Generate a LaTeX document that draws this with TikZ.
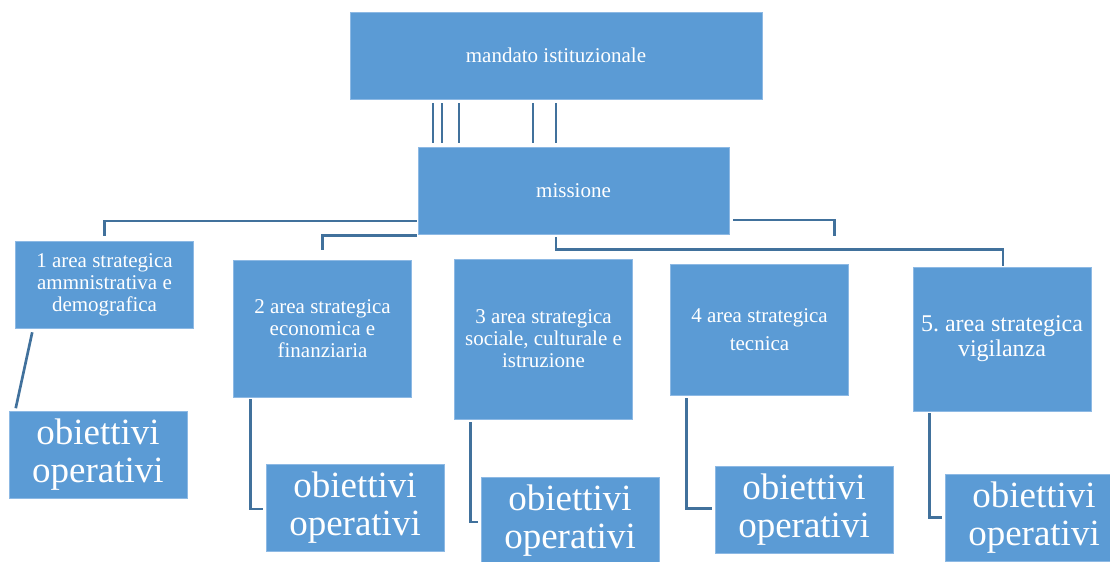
\documentclass[tikz,border=0pt]{standalone}
\usepackage{fontspec}
\setmainfont{Liberation Serif}
\usepackage{tikz}
\usetikzlibrary{calc}
\definecolor{BoxBlue}{HTML}{5B9BD5}
\definecolor{LineBlue}{HTML}{41719C}
\definecolor{EdgeBlue}{HTML}{8DB9E4}
\frenchspacing

\begin{document}
\begin{tikzpicture}[
  x=0.75pt, y=-0.75pt,
  box/.style={fill=BoxBlue, draw=EdgeBlue, line width=0.4pt, text=white,
              inner sep=0pt, align=center,
              font=\fontsize{15.75}{16.5}\selectfont},
  area/.style={box, minimum width=133.5pt},
  obj/.style={box, minimum width=133.5pt, minimum height=65.25pt,
              font=\fontsize{27.75}{28.5}\selectfont},
  link/.style={LineBlue, line width=2pt},
]
\useasboundingbox (0,0) rectangle (1110,561);

% top levels
\node[box, minimum width=309pt, minimum height=65.25pt] (mandato) at (556,55.5) {mandato istituzionale};
\node[box, minimum width=233.25pt, minimum height=65.25pt] (missione) at (573.5,190.5) {missione};

% strategic areas
\node[area, minimum height=65.25pt] (a1) at (104.5,284.5) {1 area strategica\\ammnistrativa e\\demografica};
\node[area, minimum height=102.75pt] (a2) at (322.5,328.5) {2 area strategica\\economica e\\finanziaria};
\node[area, minimum height=120pt] (a3) at (543.5,339) {3 area strategica\\sociale, culturale e\\istruzione};
\node[area, minimum height=98.25pt] (a4) at (759.5,329.5) {4 area strategica\\[4.5pt]tecnica};
\node[area, minimum height=108pt, font=\fontsize{18}{18.75}\selectfont] (a5) at (1002,339) {5. area strategica\\vigilanza};

% operational goals
\node[obj] (o1) at (98,455) {obiettivi\\operativi};
\node[obj] (o2) at (355,508) {obiettivi\\operativi};
\node[obj] (o3) at (570,521) {obiettivi\\operativi};
\node[obj] (o4) at (804,509.5) {obiettivi\\operativi};
\node[obj] (o5) at (1034,517.5) {obiettivi\\operativi};

% connectors
\foreach \dx in {-123,-114,-97,-23,0}
  \draw[link] ($(mandato.south)+(\dx,4)$) -- ++(0,40);
\draw[link] ($(missione.west)+(-1,30.5)$) -| ($(a1.north)+(0,-5)$);
\draw[link] ($(missione.south west)+(-1,1)$) -| ($(a2.north)+(0,-10)$);
\draw[link] ($(missione.east)+(4,29.5)$) -| ($(a4.north)+(75,-28)$);
\draw[link] ($(missione.south)+(-17.5,3)$) -- ++(0,12) -| ($(a5.north)+(1,-1)$);
\draw[link] ($(a1.south west)+(17,4)$) -- ($(o1.north west)+(7,-3)$);
\draw[link] ($(a2.south west)+(17,2)$) |- ($(o2.west)+(-3,1)$);
\draw[link] ($(a3.south west)+(16,3)$) |- ($(o3.west)+(-3,1)$);
\draw[link] ($(a4.south west)+(16,3)$) |- ($(o4.west)+(-3,-1)$);
\draw[link] ($(a5.south west)+(17,2)$) |- ($(o5.west)+(-3,0)$);
\end{tikzpicture}
\end{document}
